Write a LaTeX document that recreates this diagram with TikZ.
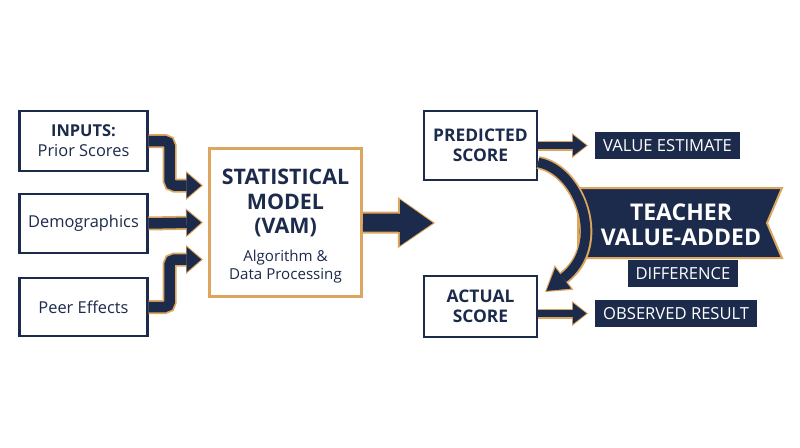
\documentclass[tikz,border=0pt]{standalone}
\usepackage{fontspec}
\setmainfont{Open Sans}
\usepackage{tikz}
\usetikzlibrary{arrows.meta, positioning}
\definecolor{navy}{HTML}{1C2B4B}
\definecolor{gold}{HTML}{DCA65E}

\begin{document}
\begin{tikzpicture}[x=1pt,y=-1pt]
\tikzstyle{inbox}=[draw=navy, line width=2.2pt, fill=white, text=navy, minimum width=128pt, align=center, font=\fontsize{16.4}{20}\selectfont]
\tikzstyle{scorebox}=[draw=navy, line width=2.2pt, fill=white, text=navy, minimum width=113pt, align=center, font=\fontsize{17.4}{19.5}\selectfont\bfseries]
\tikzstyle{tag}=[fill=navy, text=white, minimum height=27pt, inner xsep=8pt, inner ysep=0pt, font=\fontsize{16.6}{18}\selectfont]
\tikzstyle{inarrow}=[draw=navy, line width=10.5pt, rounded corners=5pt, shorten >=1.8pt, -{Triangle[width=25pt,length=14.5pt,fill=navy,color=navy,line width=0pt]},
  preaction={draw=gold, line width=14pt, shorten >=0pt, -{Triangle[width=29pt,length=17pt,fill=gold,color=gold,line width=0pt]}}]
\tikzstyle{bigarrow}=[draw=navy, line width=18pt, shorten >=2pt, -{Triangle[width=46pt,length=33pt,fill=navy,color=navy,line width=0pt]},
  preaction={draw=gold, line width=22pt, shorten >=0pt, -{Triangle[width=51pt,length=37pt,fill=gold,color=gold,line width=0pt]}}]
\tikzstyle{smallarrow}=[draw=navy, line width=7pt, shorten >=1.6pt, -{Triangle[width=21pt,length=13.5pt,fill=navy,color=navy,line width=0pt]},
  preaction={draw=gold, line width=10pt, shorten >=0pt, -{Triangle[width=25pt,length=16pt,fill=gold,color=gold,line width=0pt]}}]
\tikzstyle{curvearrow}=[draw=navy, line width=9.5pt, shorten >=1.8pt, -{Triangle[width=26pt,length=21pt,fill=navy,color=navy,line width=0pt]},
  preaction={draw=gold, line width=13pt, shorten >=0pt, -{Triangle[width=31pt,length=24pt,fill=gold,color=gold,line width=0pt]}}]

\fill[white] (0,0) rectangle (800,447);
\useasboundingbox (0,0) rectangle (800,447);

% inputs
\node[inbox, minimum height=60pt] (in1) at (83.5,141) {{\bfseries INPUTS:}\\Prior Scores};
\node[inbox, minimum height=59pt] (in2) at (83.5,223.5) {Demographics};
\node[inbox, minimum height=58pt] (in3) at (83.5,307) {Peer Effects};

% model
\node[draw=gold, line width=3pt, fill=white, minimum width=152pt, minimum height=148pt] (model) at (285.5,222.5) {};
\node[text=navy, align=center, font=\fontsize{21.4}{24.5}\selectfont\bfseries] (vam) at (285.5,203) {STATISTICAL\\MODEL\\(VAM)};
\node[text=navy, align=center, font=\fontsize{15.1}{18}\selectfont] (algo) at (285.5,267) {Algorithm \&\\Data Processing};

\draw[inarrow] (in1.east) -- ++(21,0) |- ([xshift=-5pt,yshift=37pt]model.west);
\draw[inarrow] (in2.east) -- ([xshift=-5pt]model.west);
\draw[inarrow] (in3.east) -- ++(21,0) |- ([xshift=-5pt,yshift=-37pt]model.west);

\coordinate (gapend) at (435,223);
\draw[bigarrow] (model.east) -- (gapend);

% scores
\node[scorebox, minimum height=69pt] (pred) at (480.5,145.5) {PREDICTED\\SCORE};
\node[scorebox, minimum height=61pt] (act) at (480.5,306.5) {ACTUAL\\SCORE};

\node[tag, anchor=west] (est) at (595,145.5) {VALUE ESTIMATE};
\node[tag, anchor=west] (obs) at (595,313.5) {OBSERVED RESULT};

\draw[smallarrow] (pred.east) -- ([xshift=-7pt]est.west);
\draw[smallarrow] (act.east |- obs.west) -- ([xshift=-7pt]obs.west);

% banner
\draw[fill=navy, draw=gold, line width=2pt] (578,188) -- (782,188) -- (767,223) -- (782,258) -- (578,258) -- cycle;
\node[text=white, align=center, font=\fontsize{23}{25}\selectfont\bfseries] (tva) at (681,224.5) {TEACHER\\VALUE-ADDED};
\node[tag] (diff) at (683,273.5) {DIFFERENCE};

\coordinate (tipc) at (545,292);
\draw[curvearrow] ([yshift=-17pt]pred.east) .. controls (580,170) and (607,245) .. (tipc);

\end{tikzpicture}
\end{document}
